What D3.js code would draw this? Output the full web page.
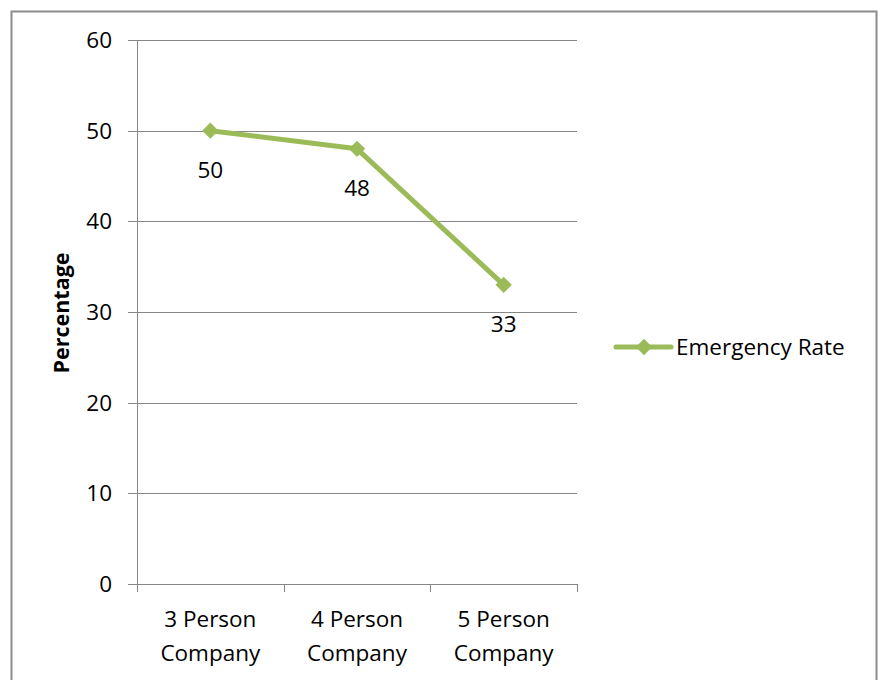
<!DOCTYPE html>
<html>
<head>
<meta charset="utf-8">
<script src="https://cdn.jsdelivr.net/npm/d3@7"></script>
<style>
  body { margin: 0; background: #fff; }
  svg { display: block; font-family: "Open Sans", "Noto Sans", sans-serif; }
</style>
</head>
<body>
<svg id="chart" width="883" height="680"></svg>
<script>
const categories = ["3 Person Company", "4 Person Company", "5 Person Company"];
const values = [50, 48, 33];
const yTicks = [0, 10, 20, 30, 40, 50, 60];
const seriesName = "Emergency Rate";

const svg = d3.select("#chart");
const lineColor = "#9BBB59";
const gridColor = "#868686";
const fs = 22.5;

// outer chart border (bottom runs off the picture)
svg.append("rect")
    .attr("x", 11.5).attr("y", 11.5)
    .attr("width", 865).attr("height", 700)
    .attr("fill", "none")
    .attr("stroke", "#8c8c8c")
    .attr("stroke-width", 2);

const x = d3.scaleBand().domain(categories).range([137, 577]);
const y = d3.scaleLinear().domain([0, 60]).range([584, 40]);

// horizontal gridlines + y ticks
const yAxis = svg.append("g");
yAxis.selectAll("line.grid").data(yTicks).enter().append("line")
    .attr("x1", 128).attr("x2", 577)
    .attr("y1", d => Math.round(y(d)) + 0.5)
    .attr("y2", d => Math.round(y(d)) + 0.5)
    .attr("stroke", gridColor).attr("stroke-width", 1);
yAxis.selectAll("text").data(yTicks).enter().append("text")
    .attr("x", 112)
    .attr("y", d => y(d))
    .attr("dy", "0.35em")
    .attr("text-anchor", "end")
    .attr("font-size", fs)
    .text(d => d);

// vertical axis line
svg.append("line")
    .attr("x1", 137.5).attr("x2", 137.5)
    .attr("y1", y(60)).attr("y2", y(0))
    .attr("stroke", gridColor);

// x ticks
const xTickPos = categories.map(c => x(c)).concat([x.range()[1]]);
svg.selectAll("line.xtick").data(xTickPos).enter().append("line")
    .attr("x1", d => Math.round(d) + 0.5).attr("x2", d => Math.round(d) + 0.5)
    .attr("y1", y(0)).attr("y2", y(0) + 8)
    .attr("stroke", gridColor);

const xLabels = svg.selectAll("text.xlab").data(categories).enter().append("text")
    .attr("text-anchor", "middle")
    .attr("font-size", fs)
    .attr("x", d => x(d) + x.bandwidth() / 2);
xLabels.append("tspan")
    .attr("x", d => x(d) + x.bandwidth() / 2)
    .attr("y", 627)
    .text(d => d.split(" ").slice(0, 2).join(" "));
xLabels.append("tspan")
    .attr("x", d => x(d) + x.bandwidth() / 2)
    .attr("y", 661)
    .text(d => d.split(" ").slice(2).join(" "));

// y title
svg.append("text")
    .attr("transform", "translate(69,313) rotate(-90)")
    .attr("text-anchor", "middle")
    .attr("font-size", 21.5)
    .attr("font-weight", "bold")
    .text("Percentage");

// the series
const pts = categories.map((c, i) => ({ c, v: values[i] }));
const cx = d => x(d.c) + x.bandwidth() / 2;

svg.append("path")
    .datum(pts)
    .attr("fill", "none")
    .attr("stroke", lineColor)
    .attr("stroke-width", 5)
    .attr("stroke-linejoin", "round")
    .attr("d", d3.line().x(cx).y(d => y(d.v)));

const diamond = d3.symbol().type(d3.symbolDiamond2).size(170);
svg.selectAll("path.marker").data(pts).enter().append("path")
    .attr("transform", d => `translate(${cx(d)},${y(d.v)})`)
    .attr("d", diamond)
    .attr("fill", lineColor);

svg.selectAll("text.val").data(pts).enter().append("text")
    .attr("x", cx)
    .attr("y", d => y(d.v) + 39)
    .attr("dy", "0.35em")
    .attr("text-anchor", "middle")
    .attr("font-size", fs)
    .text(d => d.v);

// legend
const lg = svg.append("g").attr("transform", "translate(616,347)");
lg.append("line").attr("x1", 0).attr("x2", 55).attr("y1", 0).attr("y2", 0)
    .attr("stroke", lineColor).attr("stroke-width", 5).attr("stroke-linecap", "round");
lg.append("path").attr("transform", "translate(28,0)").attr("d", diamond).attr("fill", lineColor);
lg.append("text").attr("x", 60).attr("y", 0).attr("dy", "0.35em")
    .attr("font-size", fs).text(seriesName);
</script>
</body>
</html>
